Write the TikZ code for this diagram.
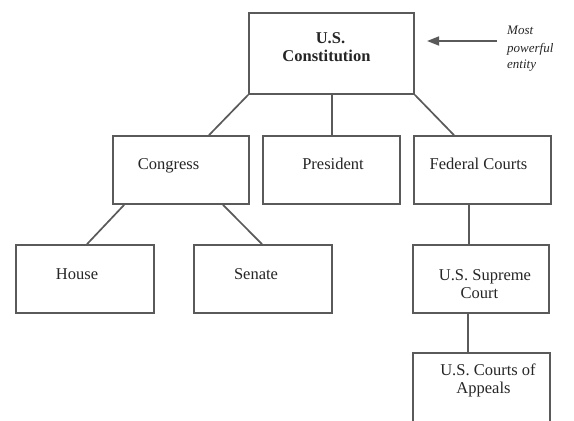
\documentclass[tikz,border=0pt]{standalone}
\usepackage{fontspec}
\setmainfont{Liberation Serif}
\usetikzlibrary{calc,arrows.meta}

\definecolor{edgegray}{HTML}{5A5A5A}
\definecolor{inkgray}{HTML}{262626}

\tikzset{
  orgbox/.style={draw=edgegray, line width=1.7pt, fill=white, inner sep=0pt,
    minimum width=137pt, minimum height=68pt},
  txt/.style={anchor=base, inner sep=0pt, text=inkgray,
    font=\fontsize{16.5pt}{19pt}\selectfont},
  btxt/.style={txt, font=\fontsize{16.5pt}{19pt}\selectfont\bfseries},
  note/.style={anchor=base west, inner sep=0pt, text=inkgray,
    font=\fontsize{13pt}{16pt}\selectfont\itshape},
  link/.style={draw=edgegray, line width=1.7pt},
}

\begin{document}
\begin{tikzpicture}[x=1pt, y=-1pt]
  \useasboundingbox (0,0) rectangle (574,421);
  \clip (0,0) rectangle (574,421);

  % boxes
  \node[orgbox, minimum width=165pt, minimum height=81pt] (con) at (331.5,53.5) {};
  \node[orgbox, minimum width=136pt] (cong) at (181,170) {};
  \node[orgbox] (pres) at (331.5,170) {};
  \node[orgbox] (fed) at (482.5,170) {};
  \node[orgbox, minimum width=138pt] (house) at (85,279) {};
  \node[orgbox, minimum width=138pt] (senate) at (263,279) {};
  \node[orgbox, minimum width=136pt] (sup) at (481,279) {};
  \node[orgbox, minimum width=137pt, minimum height=80pt] (app) at (481.5,393) {};

  % connectors
  \draw[link] (con.south west) -- ($(cong.north)+(28,0)$);
  \coordinate (contap) at ($(con.south)+(0.5,0)$);
  \draw[link] (contap) -- (contap |- pres.north);
  \draw[link] (con.south east) -- ($(fed.north)+(-28.5,0)$);
  \draw[link] ($(cong.south west)+(12,0)$) -- ($(house.north)+(2,0)$);
  \draw[link] ($(cong.south)+(42,0)$) -- ($(senate.north)+(-1,0)$);
  \coordinate (fedtap) at ($(fed.south)+(-13.5,0)$);
  \draw[link] (fedtap) -- (fedtap |- sup.north);
  \coordinate (suptap) at ($(sup.south)+(-13,0)$);
  \draw[link] (suptap) -- (suptap |- app.north);

  % box texts
  \node[btxt] (con1) at (330.5,43) {U.S.};
  \node[btxt] (con2) at (326.5,61) {Constitution};
  \node[txt] (congt) at (168.5,169) {Congress};
  \node[txt] (prest) at (333,169) {President};
  \node[txt] (fedt) at (478.5,169) {Federal Courts};
  \node[txt] (houset) at (77,279) {House};
  \node[txt] (senatet) at (256,279) {Senate};
  \node[txt] (sup1) at (485,280) {U.S. Supreme};
  \node[txt] (sup2) at (479.5,298) {Court};
  \node[txt] (app1) at (488,375) {U.S. Courts of};
  \node[txt] (app2) at (483.5,393) {Appeals};

  % side note with pointer
  \node[note] (n1) at (507,34) {Most};
  \node[note] (n2) at (507,52) {powerful};
  \node[note] (n3) at (507,68) {entity};
  \coordinate (tail) at (497,41);
  \coordinate (tip) at (427,41);
  \draw[link, -{Triangle[length=12pt, width=9pt]}] (tail) -- (tip);
\end{tikzpicture}
\end{document}
